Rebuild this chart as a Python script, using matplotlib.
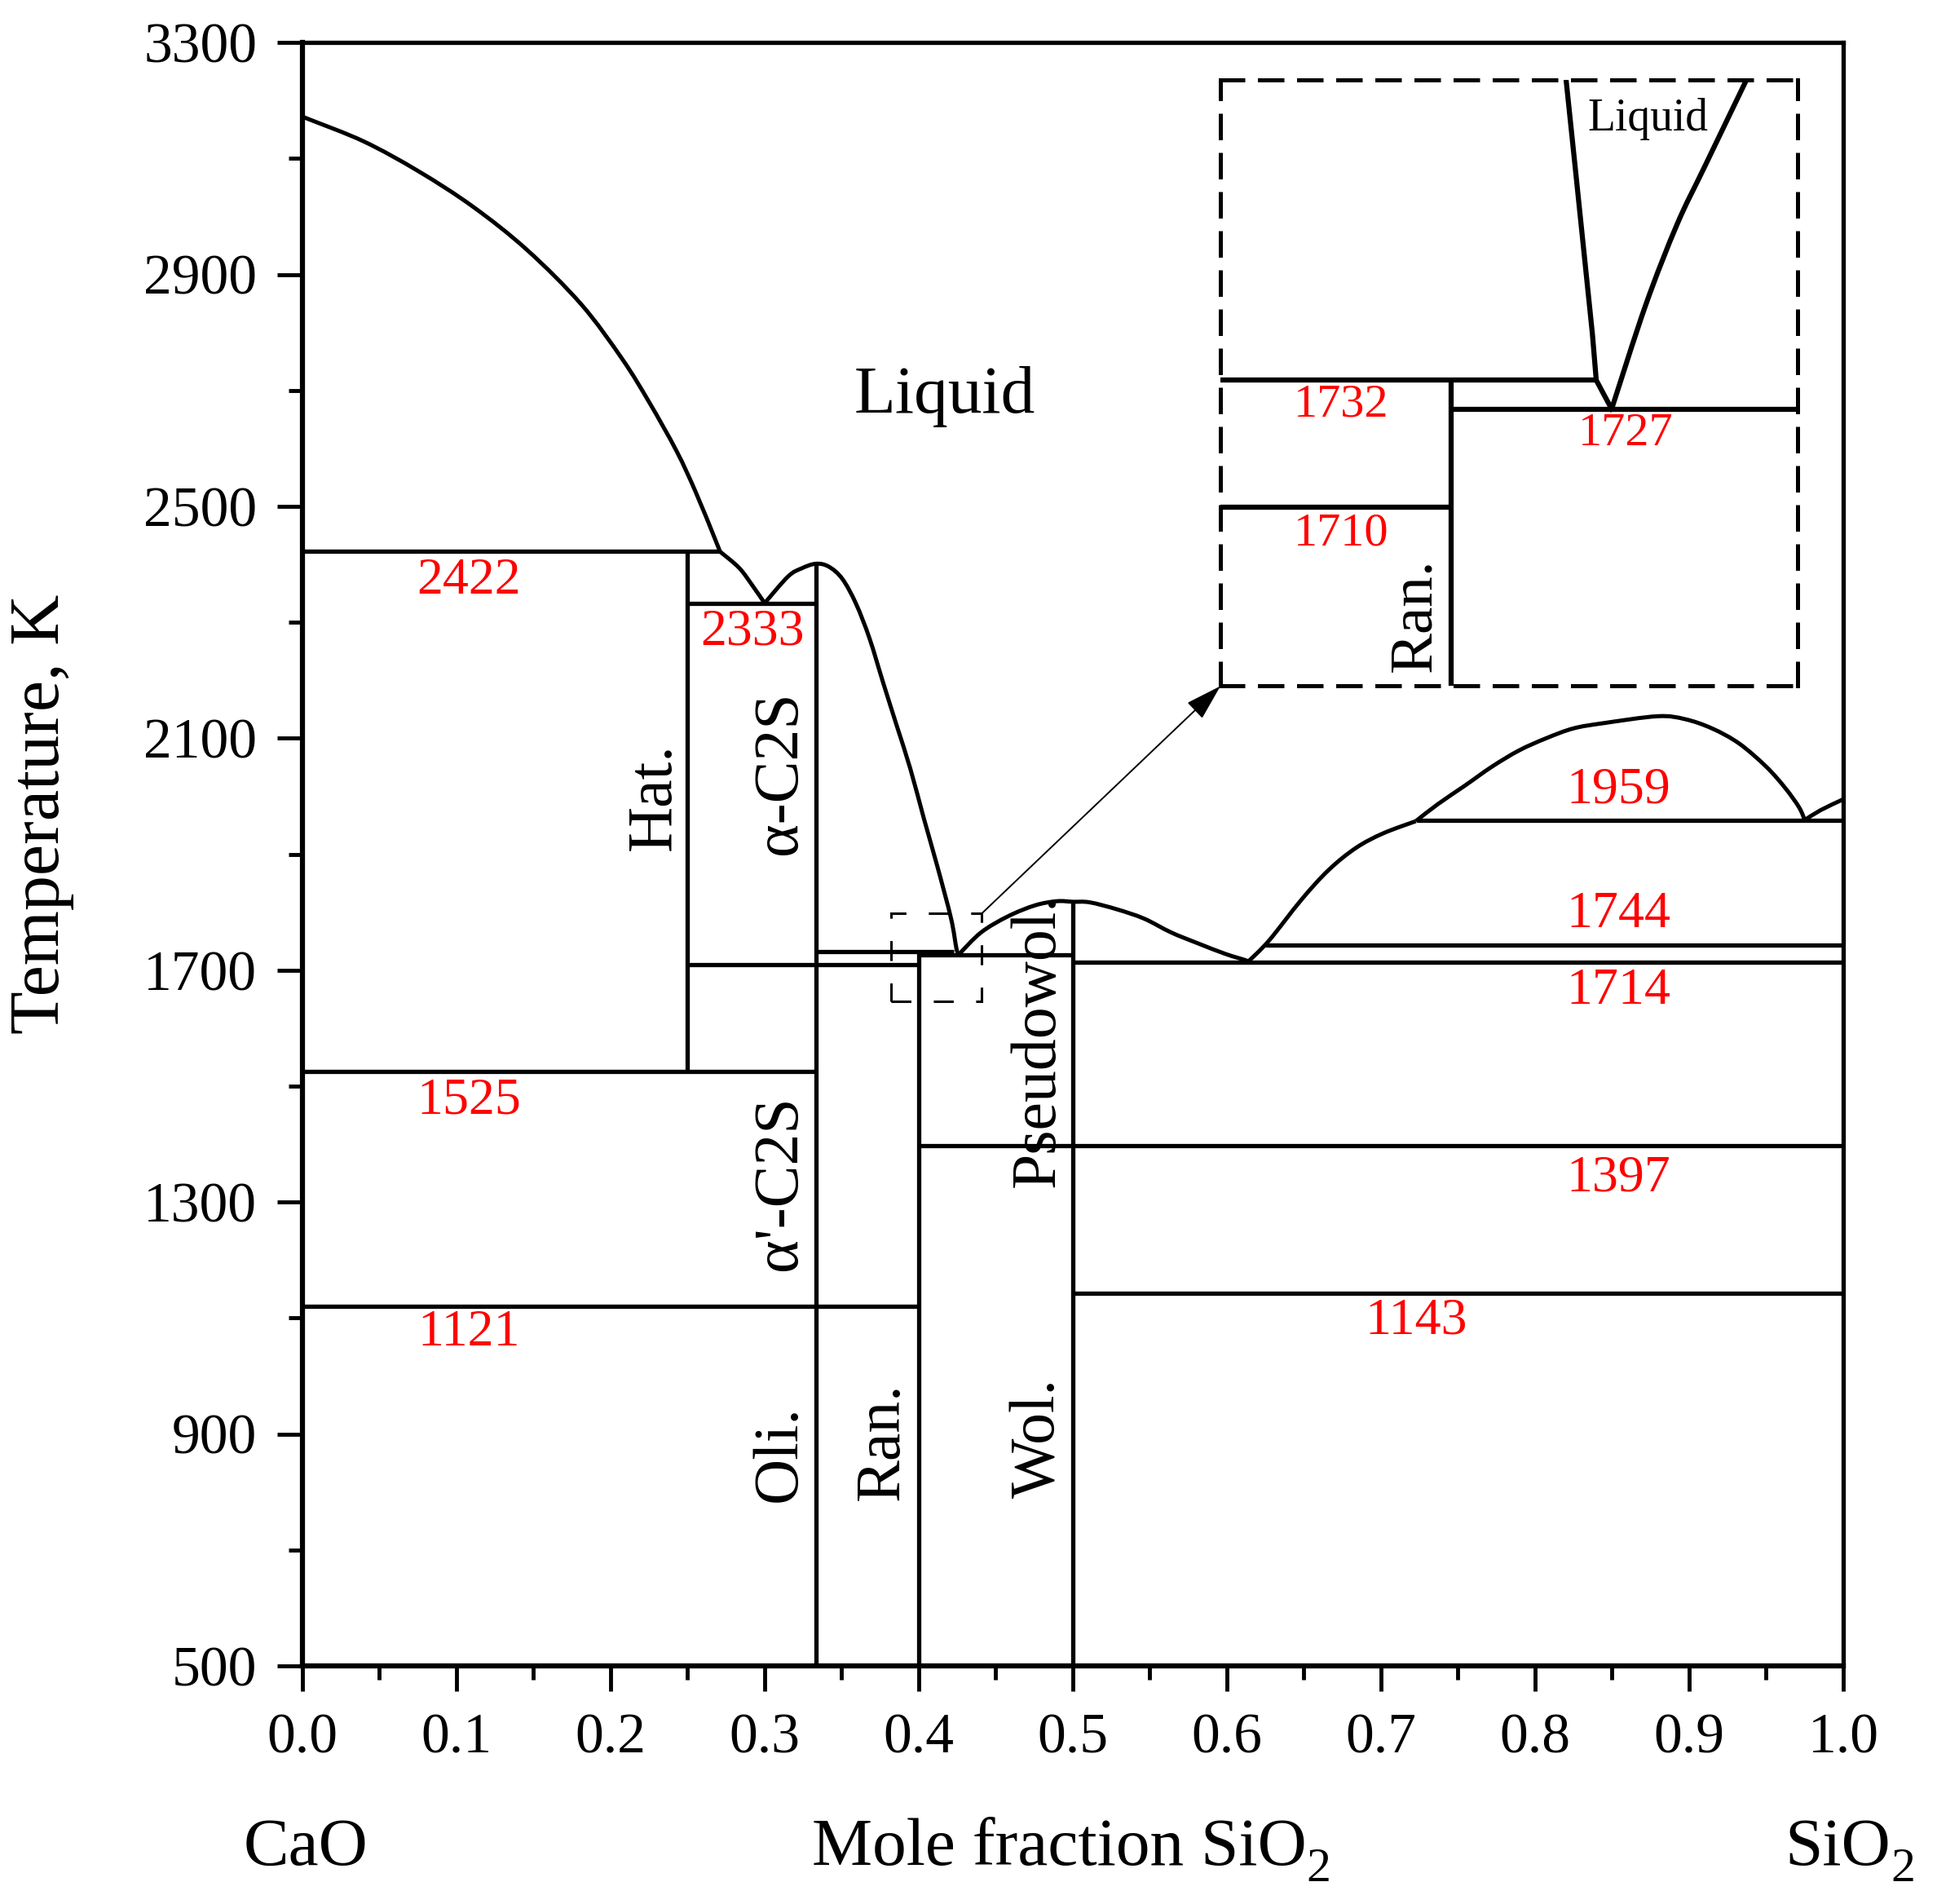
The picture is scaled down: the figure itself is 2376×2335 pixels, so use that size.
import matplotlib
matplotlib.use('Agg')
import matplotlib.pyplot as plt
from matplotlib.patches import Rectangle, PathPatch
from matplotlib.path import Path
import numpy as np

plt.rcParams['font.family'] = ['Liberation Serif', 'DejaVu Serif']
plt.rcParams['mathtext.fontset'] = 'custom'
plt.rcParams['mathtext.rm'] = 'Liberation Serif'
plt.rcParams['mathtext.default'] = 'regular'

# ---------------- data ----------------
# liquidus of CaO
cao_liq_x = [0.0, 0.0048, 0.0401, 0.0753, 0.1106, 0.1459, 0.1811, 0.2076, 0.2252, 0.2429, 0.2552, 0.2676, 0.271]
cao_liq_T = [3172, 3167, 3129, 3078, 3017, 2942, 2848, 2754, 2679, 2595, 2525, 2445, 2422]
# liquidus between 2422 and the 2333 eutectic
c3s_liq_x = [0.271, 0.2834, 0.2922, 0.300]
c3s_liq_T = [2422, 2394, 2363, 2333]
# liquidus of C2S
c2s_liq_x = [0.300, 0.3152, 0.324, 0.3333, 0.3416, 0.3504, 0.3593, 0.3681, 0.3769, 0.3857,
             0.3946, 0.4033, 0.4122, 0.421, 0.4245, 0.426]
c2s_liq_T = [2333, 2379, 2393, 2401, 2396, 2375, 2332, 2272, 2196, 2122,
             2047, 1962, 1878, 1789, 1737, 1727]
# liquidus of pseudowollastonite
pw_liq_x = [0.426, 0.4404, 0.458, 0.4757, 0.4898, 0.5, 0.511, 0.5286, 0.5462, 0.5639, 0.5815, 0.5991, 0.6123, 0.6135]
pw_liq_T = [1727, 1765, 1793, 1812, 1819, 1818, 1817, 1805, 1789, 1765, 1746, 1728, 1717, 1714]
# silica liquidus up to the monotectic at 1959
si_liq_x = [0.6135, 0.6273, 0.6485, 0.6661, 0.6838, 0.7014, 0.7226]
si_liq_T = [1714, 1751, 1822, 1873, 1911, 1936, 1957]
# liquid miscibility dome above 1959
gap_x = [0.7226, 0.7367, 0.7543, 0.772, 0.7896, 0.8072, 0.8249, 0.8443, 0.8795, 0.8972,
         0.9148, 0.9324, 0.95, 0.9624, 0.9713, 0.975]
gap_T = [1957, 1986, 2018, 2051, 2079, 2100, 2117, 2126, 2138, 2133,
         2117, 2091, 2051, 2014, 1981, 1959]
sio2_liq_x = [0.975, 0.9853, 0.9986, 1.0]
sio2_liq_T = [1959, 1976, 1993, 1995]

# invariant (horizontal) lines
iso_T = [2422, 2333, 1525, 1121, 1710, 1732, 1727, 1714, 1744, 1959, 1397, 1143]
iso_x0 = [0.0, 0.25, 0.0, 0.0, 0.25, 1 / 3, 0.4, 0.5, 0.6247, 0.7233, 0.4, 0.5]
iso_x1 = [0.271, 1 / 3, 1 / 3, 0.4, 0.4, 0.423, 0.5, 1.0, 1.0, 1.0, 1.0, 1.0]

# compound (vertical) lines
vert_x = [0.25, 1 / 3, 0.4, 0.5]
vert_T0 = [1525, 500, 500, 500]
vert_T1 = [2422, 2401, 1732, 1818]

# red temperature labels
red_text = ['2422', '2333', '1525', '1121', '1959', '1744', '1714', '1397', '1143']
red_x = [0.108, 0.292, 0.108, 0.108, 0.854, 0.854, 0.854, 0.854, 0.723]
red_T = [2371, 2282, 1474, 1074, 2010, 1795, 1663, 1340, 1095]

# phase labels (vertical)
phase_text = ['Hat.', 'α-C2S', "α'-C2S", 'Oli.', 'Ran.', 'Wol.', 'Pseudowol.']
phase_x = [0.2286, 0.310, 0.310, 0.310, 0.377, 0.478, 0.478]
phase_T = [1999, 2041, 1333, 866, 887, 893, 1580]

# inset (zoomed eutectic region)
in_liqL_x = [0.4179, 0.4194, 0.422, 0.4226, 0.425]
in_liqL_T = [1784, 1768, 1740, 1732, 1727]
in_liqR_x = [0.425, 0.4303, 0.4352, 0.4395, 0.446]
in_liqR_T = [1727, 1745, 1759, 1769, 1784]
in_iso_T = [1732, 1727, 1710]
in_iso_x0 = [0.364, 0.4, 0.364]
in_iso_x1 = [0.4226, 0.454, 0.4]
in_red_text = ['1732', '1727', '1710']
in_red_x = [0.3828, 0.4272, 0.3828]
in_red_T = [1727.7, 1722.7, 1705.4]

xticks = [0.0, 0.1, 0.2, 0.3, 0.4, 0.5, 0.6, 0.7, 0.8, 0.9, 1.0]
yticks = [500, 900, 1300, 1700, 2100, 2500, 2900, 3300]


def smooth_curve(axis, xs, ys, lw):
    """Draw a smooth curve through the read points (Catmull-Rom as cubic Bezier)."""
    P = np.column_stack([xs, ys]).astype(float)
    n = len(P)
    verts = [P[0]]
    codes = [Path.MOVETO]
    for i in range(n - 1):
        p0 = P[i - 1] if i > 0 else P[i]
        p1 = P[i]
        p2 = P[i + 1]
        p3 = P[i + 2] if i + 2 < n else P[i + 1]
        verts += [p1 + (p2 - p0) / 6.0, p2 - (p3 - p1) / 6.0, p2]
        codes += [Path.CURVE4] * 3
    axis.add_patch(PathPatch(Path(verts, codes), fill=False, ec='k', lw=lw,
                             capstyle='butt', joinstyle='round'))


# ---------------- figure ----------------
LW = 3.8
fig = plt.figure(figsize=(23.76, 23.35), dpi=100)
ax = fig.add_axes([0.1561, 0.125, 0.7955, 0.8527])
ax.set_xlim(0, 1)
ax.set_ylim(500, 3300)

for xs, Ts in [(cao_liq_x, cao_liq_T), (c3s_liq_x, c3s_liq_T), (c2s_liq_x, c2s_liq_T),
               (pw_liq_x, pw_liq_T), (si_liq_x, si_liq_T), (gap_x, gap_T),
               (sio2_liq_x, sio2_liq_T)]:
    smooth_curve(ax, xs, Ts, 3.6)
for T, a, b in zip(iso_T, iso_x0, iso_x1):
    ax.plot([a, b], [T, T], color='k', lw=LW, solid_capstyle='butt')
for x, a, b in zip(vert_x, vert_T0, vert_T1):
    ax.plot([x, x], [a, b], color='k', lw=LW, solid_capstyle='butt')

for t, x, T in zip(red_text, red_x, red_T):
    ax.text(x, T, t, color='red', fontsize=46, ha='center', va='center')
for t, x, T in zip(phase_text, phase_x, phase_T):
    ax.text(x, T, t, color='k', fontsize=56, ha='center', va='center', rotation=90)
ax.text(0.417, 2690, 'Liquid', fontsize=60, ha='center', va='center')

# small dashed box and arrow
ax.add_patch(Rectangle((0.382, 1646), 0.059, 152, fill=False, ec='k', lw=2.2,
                       ls=(0, (8, 9))))
ax.annotate('', xy=(0.5958, 2190), xytext=(0.441, 1798),
            arrowprops=dict(arrowstyle='-|>,head_length=0.4,head_width=0.12',
                            mutation_scale=70, lw=1.4, color='k',
                            shrinkA=0, shrinkB=0))

# ticks and spines
ax.set_xticks(xticks)
ax.set_xticklabels([f'{v:.1f}' for v in xticks])
ax.set_xticks(np.arange(0.05, 1.0, 0.1), minor=True)
ax.set_yticks(yticks)
ax.set_yticklabels([str(v) for v in yticks])
ax.set_yticks(np.arange(700, 3300, 400), minor=True)
ax.tick_params(which='both', direction='out', top=False, right=False, width=3.5)
ax.tick_params(which='major', length=22, labelsize=50)
ax.tick_params(which='minor', length=12)
ax.tick_params(axis='x', which='major', pad=20)
ax.tick_params(axis='y', which='major', pad=18)
for sp in ax.spines.values():
    sp.set_linewidth(3.8)
ax.spines['bottom'].set_linewidth(4.5)
ax.spines['left'].set_linewidth(4.5)

# inset
axin = ax.inset_axes([0.5958, 0.6036, 0.3746, 0.3732])
axin.set_xlim(0.364, 0.454)
axin.set_ylim(1679, 1784)
axin.set_xticks([])
axin.set_yticks([])
axin.set_facecolor('none')
for sp in axin.spines.values():
    sp.set_linestyle((0, (5.5, 4.1)))
    sp.set_linewidth(3.6)
ILW = 4.5
axin.plot(in_liqL_x, in_liqL_T, color='k', lw=ILW)
smooth_curve(axin, in_liqR_x, in_liqR_T, ILW)
for T, a, b in zip(in_iso_T, in_iso_x0, in_iso_x1):
    axin.plot([a, b], [T, T], color='k', lw=ILW, solid_capstyle='butt')
axin.plot([0.4, 0.4], [1679, 1732], color='k', lw=ILW, solid_capstyle='butt')
for t, x, T in zip(in_red_text, in_red_x, in_red_T):
    axin.text(x, T, t, color='red', fontsize=42, ha='center', va='center')
axin.text(0.4307, 1777.2, 'Liquid', fontsize=40, ha='center', va='center')
axin.text(0.3945, 1691.3, 'Ran.', fontsize=54, ha='center', va='center', rotation=90)

# axis titles
fig.text(0.0215, 0.5726, 'Temperature, K', rotation=90, ha='center', va='center', fontsize=62)
fig.text(0.158, 0.0206, 'CaO', ha='center', va='baseline', fontsize=60)

renderer = fig.canvas.get_renderer()
W, H = fig.bbox.width, fig.bbox.height


def chem_label(xc, yb, base, sub, fs=60, subfs=43, drop_px=20):
    t = fig.text(0, yb, base, fontsize=fs, ha='left', va='baseline')
    s = fig.text(0, yb, sub, fontsize=subfs, ha='left', va='baseline')
    wb = t.get_window_extent(renderer).width
    ws = s.get_window_extent(renderer).width
    x0 = xc - (wb + ws) / 2.0 / W
    t.set_x(x0)
    s.set_x(x0 + wb / W)
    s.set_y(yb - drop_px / H)


chem_label(0.553, 0.0206, 'Mole fraction SiO', '2')
chem_label(0.955, 0.0206, 'SiO', '2')

fig.savefig('out.png', dpi=100)
